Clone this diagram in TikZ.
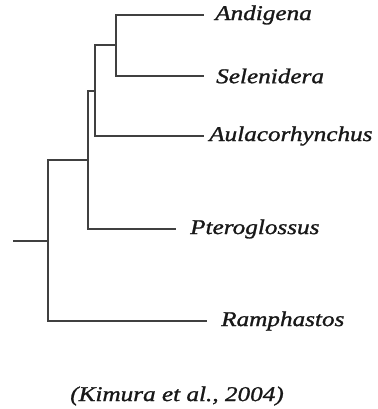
\documentclass[tikz,border=0pt]{standalone}
\usepackage{fontspec}
\setmainfont{Liberation Serif}[FakeStretch=1.2,FakeBold=1.2]
\usetikzlibrary{positioning}
\definecolor{branch}{RGB}{64,64,64}
\definecolor{ink}{RGB}{24,24,24}

\begin{document}
\begin{tikzpicture}[
        x=1pt, y=-1pt,
        b/.style={draw=branch,line width=2pt},
        t/.style={inner sep=0pt,text=ink,anchor=west,
            font=\fontsize{21}{25}\selectfont\itshape},
    ]

    \useasboundingbox (0,0) rectangle (377,409);

    % tips
    \coordinate (tAnd) at (204,15);
    \coordinate (tSel) at (204,76);
    \coordinate (tAul) at (204,136);
    \coordinate (tPte) at (176,229);
    \coordinate (tRam) at (207,321);

    % inner nodes
    \coordinate (nAS) at (116,45.5);
    \coordinate (nASA) at (95,91);
    \coordinate (nASAP) at (88,160);
    \coordinate (nTop) at (48,240.5);
    \coordinate (root) at (13,240.5);

    \node[t,right=11pt of tAnd] (andigena) {Andigena};
    \node[t,right=12pt of tSel] (selenidera) {Selenidera};
    \node[t,right=5pt of tAul] (aulaco) {Aulacorhynchus};
    \node[t,right=14pt of tPte] (ptero) {Pteroglossus};
    \node[t,right=14pt of tRam] (ramph) {Ramphastos};

    \node[t,anchor=center] (cite) at (177,396) {(Kimura et al., 2004)};

    \draw[b]
        (nAS) |- (tAnd) (nAS) |- (tSel)
        (nASA) |- (nAS) (nASA) |- (tAul)
        (nASAP) |- (nASA) (nASAP) |- (tPte)
        (nTop) |- (nASAP) (nTop) |- (tRam)
        (root) -- (nTop)
        ;

\end{tikzpicture}
\end{document}
